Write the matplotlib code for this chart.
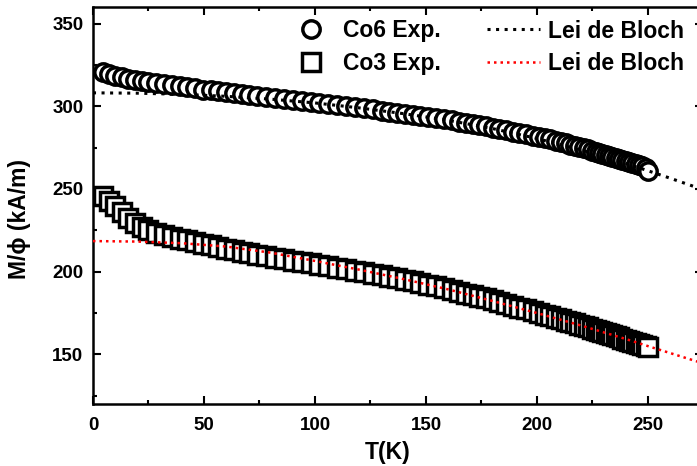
import numpy as np
import matplotlib
matplotlib.use("Agg")
import matplotlib.pyplot as plt
from matplotlib.ticker import MultipleLocator

plt.rcParams['font.family'] = ['Liberation Sans', 'DejaVu Sans']
plt.rcParams['font.weight'] = 'bold'

# ── data ─────────────────────────────────────────────────────────────────
temp_K = [
    4.5, 7, 10, 13, 16, 19, 22, 25, 28.5, 32,
    35.5, 39, 42.5, 46, 49.5, 53, 56.5, 60, 63.5, 67,
    70.5, 74, 78, 82, 86, 90, 94, 98, 102, 106,
    110, 114, 118, 122, 126, 130, 133.5, 137, 140.5, 144,
    147.5, 151, 154.5, 158, 161.5, 165, 168, 171, 174, 177,
    180, 183, 186, 189, 192, 195, 198, 201, 203.5, 206,
    208.5, 211, 213, 215, 217, 219, 221, 223, 225, 226.5,
    228, 229.5, 231, 232.5, 234, 235.5, 237, 238.5, 240, 241.5,
    243, 244.5, 246, 247.5, 249, 250,
]
co6_exp = [
    320.5, 319.4, 318.3, 317.4, 316.6, 315.8, 315.1, 314.5, 313.8, 313.2,
    312.6, 312.0, 311.4, 310.8, 310.1, 309.6, 309.0, 308.5, 307.9, 307.4,
    306.8, 306.2, 305.6, 305.0, 304.4, 303.8, 303.2, 302.7, 302.0, 301.4,
    300.8, 300.1, 299.5, 298.8, 298.1, 297.4, 296.8, 296.2, 295.6, 294.9,
    294.3, 293.6, 292.9, 292.1, 291.4, 290.6, 289.9, 289.2, 288.5, 287.8,
    287.0, 286.2, 285.4, 284.6, 283.8, 283.0, 282.2, 281.4, 280.6, 279.9,
    279.1, 278.2, 277.5, 276.8, 276.1, 275.4, 274.6, 273.9, 273.1, 272.5,
    271.9, 271.3, 270.7, 270.1, 269.5, 268.9, 268.3, 267.6, 267.0, 266.3,
    265.7, 265.0, 264.3, 263.6, 262.9, 261.0,
]
co3_exp = [
    246.0, 243.0, 239.5, 236.0, 232.5, 229.5, 227.0, 225.0, 223.3, 222.0,
    221.0, 220.0, 219.0, 218.0, 217.0, 216.0, 215.0, 214.0, 213.0, 212.0,
    211.0, 210.2, 209.3, 208.4, 207.5, 206.6, 205.8, 205.0, 204.1, 203.3,
    202.4, 201.5, 200.6, 199.7, 198.8, 197.8, 196.9, 196.0, 195.1, 194.1,
    193.1, 192.1, 191.1, 190.0, 188.9, 187.8, 186.8, 185.8, 184.8, 183.8,
    182.7, 181.6, 180.5, 179.4, 178.3, 177.2, 176.1, 175.0, 174.0, 173.1,
    172.1, 171.1, 170.3, 169.5, 168.7, 167.9, 167.1, 166.3, 165.5, 164.8,
    164.2, 163.5, 162.9, 162.2, 161.6, 160.9, 160.3, 159.6, 159.0, 158.3,
    157.6, 156.9, 156.2, 155.5, 154.8, 154.3,
]

bloch_T = [0, 20, 40, 60, 80, 100, 120, 140, 160, 180, 200, 220, 240, 250, 260, 275]
bloch_co6 = [308.1, 307.9, 307.2, 306.0, 304.3, 302.0, 299.0, 295.5, 291.5,
             286.5, 280.5, 273.5, 265.5, 261.0, 256.5, 249.5]
bloch_co3 = [218.5, 218.2, 217.2, 215.2, 211.5, 206.5, 201.2, 195.5, 189.3,
             182.3, 175.0, 167.4, 159.3, 155.0, 150.8, 144.5]

# ── figure ───────────────────────────────────────────────────────────────
fig = plt.figure(figsize=(6.97, 4.66), dpi=100)
ax = fig.add_axes([0.1334, 0.1330, 0.8759, 0.852])

mk = dict(ls='none', ms=12.5, mew=2.5, mec='black', mfc='white', zorder=2)
h_co6, = ax.plot(temp_K, co6_exp, marker='o', label='Co6 Exp.', **mk)
h_co3, = ax.plot(temp_K, co3_exp, marker='s', label='Co3 Exp.', **mk)

h_b6, = ax.plot(bloch_T, bloch_co6, color='black', lw=2.2, ls=(0, (1, 1.8)),
                label='Lei de Bloch', zorder=3)
h_b3, = ax.plot(bloch_T, bloch_co3, color='red', lw=1.8, ls=(0, (1, 1.6)),
                label='Lei de Bloch', zorder=3)

ax.set_xlim(0, 275)
ax.set_ylim(120, 360)
ax.xaxis.set_major_locator(MultipleLocator(50))
ax.xaxis.set_minor_locator(MultipleLocator(25))
ax.yaxis.set_major_locator(MultipleLocator(50))
ax.yaxis.set_minor_locator(MultipleLocator(25))

ax.tick_params(which='both', direction='in', top=True, right=True, width=1.5)
ax.tick_params(which='major', length=5.8, labelsize=13.5)
ax.tick_params(which='minor', length=2.9)
ax.tick_params(axis='x', pad=9)
ax.tick_params(axis='y', pad=7)
for s in ax.spines.values():
    s.set_linewidth(1.8)

ax.set_xlabel('T(K)', fontsize=16.5, fontweight='bold')
ax.set_ylabel('M/\u03d5 (kA/m)', fontsize=16.5, fontweight='bold')
ax.xaxis.set_label_coords(0.483, -0.094)
ax.yaxis.set_label_coords(-0.101, 0.466)

leg_kw = dict(frameon=False, fontsize=16.5, borderpad=0, borderaxespad=0,
              labelspacing=0.42, loc='upper left', bbox_transform=fig.transFigure)
leg1 = ax.legend([h_co6, h_co3], ['Co6 Exp.', 'Co3 Exp.'], handlelength=1.0,
                 handletextpad=0.9, bbox_to_anchor=(299.5 / 697, 1 - 19.5 / 466),
                 **leg_kw)
ax.add_artist(leg1)
ax.legend([h_b6, h_b3], ['Lei de Bloch', 'Lei de Bloch'], handlelength=2.3,
          handletextpad=0.35, bbox_to_anchor=(487 / 697, 1 - 19.5 / 466), **leg_kw)

fig.savefig('out.png', dpi=100)
